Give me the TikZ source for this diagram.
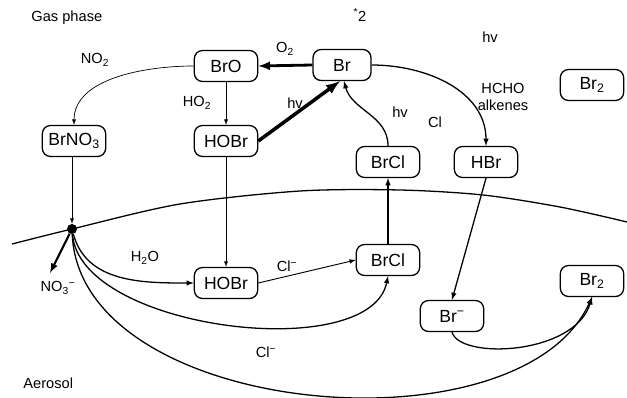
\documentclass[tikz,border=0pt]{standalone}
\usepackage{fontspec}
\setmainfont{Liberation Sans}
\usetikzlibrary{calc,
	positioning,
	arrows}
\newcommand{\lo}[1]{\textsubscript{#1}}
\newcommand{\hi}[1]{\textsuperscript{#1}}
\tikzset{
	species/.style={draw, rounded corners=7pt, line width=1.1pt, minimum width=1.9cm, minimum height=0.93cm, inner sep=2pt, font=\fontsize{15}{17}\selectfont},
	lbl/.style={inner sep=1pt, font=\fontsize{12.5}{15}\selectfont},
	thinflow/.style={-latex, line width=0.6pt},
	flow/.style={-latex, line width=1.1pt},
	heavyflow/.style={-latex, line width=2.4pt}
}

\begin{document}
\begin{tikzpicture}[x=0.03cm, y=-0.03cm]
	\useasboundingbox (0,0) rectangle (627,397);
	% gas phase species
	\node (bro) [species] at (226,66) {BrO};
	\node (br) [species, minimum width=1.74cm] at (342,65) {Br};
	\node (brno3) [species] at (74,141) {BrNO\lo{3}};
	\node (hobr) [species] at (226,141) {HOBr};
	\node (brcl) [species] at (388,162) {BrCl};
	\node (hbr) [species] at (486,162) {HBr};
	\node (brtwo) [species] at (592,85) {Br\lo{2}};
	% aerosol species
	\node (drop) [circle, fill=black, inner sep=0pt, minimum size=0.3cm] at (72,229) {};
	\node (hobraq) [species] at (226,283) {HOBr};
	\node (brclaq) [species] at (388,260) {BrCl};
	\node (brion) [species] at (452,316) {Br\hi{−}};
	\node (brtwoaq) [species] at (592,281) {Br\lo{2}};
	% labels
	\node (gas) [lbl, anchor=west] at (30,18) {Gas phase};
	\node (aerosol) [lbl, anchor=west] at (22,383) {Aerosol};
	\node (lno2) [lbl] at (95,60) {NO\lo{2}};
	\node (lo2) [lbl] at (285,49) {O\lo{2}};
	\node (lstar) [lbl] at (360,15) {\hi{*}2};
	\node (lhv) [lbl] at (490,37) {hv};
	\node (lho2) [lbl] at (197,103) {HO\lo{2}};
	\node (lhva) [lbl] at (295,103) {hv};
	\node (lhvb) [lbl] at (400,112) {hv};
	\node (lcl) [lbl] at (435,122) {Cl};
	\node (lhcho) [lbl, align=center] at (503,97) {HCHO\\alkenes};
	\node (lh2o) [lbl] at (145,258) {H\lo{2}O};
	\node (lcla) [lbl] at (287,266) {Cl\hi{−}};
	\node (lno3) [lbl] at (58,288) {NO\lo{3}\hi{−}};
	\node (lclb) [lbl] at (266,352) {Cl\hi{−}};
	\coordinate (no3end) at (50,273);
	% interface
	\draw[line width=1.1pt] plot[smooth] coordinates {(12,244) (72,229) (180,204) (300,191) (400,190) (483,195) (560,207) (627,222)};
	% gas phase reactions
	\draw[thinflow] (bro.west) to[out=180, in=90, looseness=0.9] (brno3.north);
	\draw[thinflow] (bro) -- (hobr);
	\draw[heavyflow] (br.west) -- (bro.east);
	\draw[heavyflow, line width=3pt] (hobr.east) -- ($(br.south)+(-2,0)$);
	\draw[flow] (brcl.north) to[out=90, in=-75] ($(br.south)+(2,0)$);
	\draw[flow] (br.east) to[out=0, in=90] (hbr.north);
	% uptake
	\draw[thinflow] (brno3.south -| drop) -- (drop);
	\draw[thinflow] (hobr) -- (hobraq);
	\draw[flow] (hbr.south) -- (brion.north);
	\draw[flow] (brclaq) -- (brcl);
	% aerosol reactions
	\draw[heavyflow, line width=1.8pt] (drop) -- (no3end);
	\draw[flow] (drop) to[out=-75, in=180] (hobraq.west);
	\draw[thinflow, line width=0.8pt] (hobraq.east) -- (brclaq.west);
	\draw[flow] (drop) .. controls (80,330) and (370,365) .. (brclaq.south);
	\draw[flow] (drop) .. controls (80,418) and (520,456) .. (brtwoaq.south);
	\draw[flow] (brion.south) .. controls (460,360) and (575,355) .. (brtwoaq.south);
\end{tikzpicture}
\end{document}
